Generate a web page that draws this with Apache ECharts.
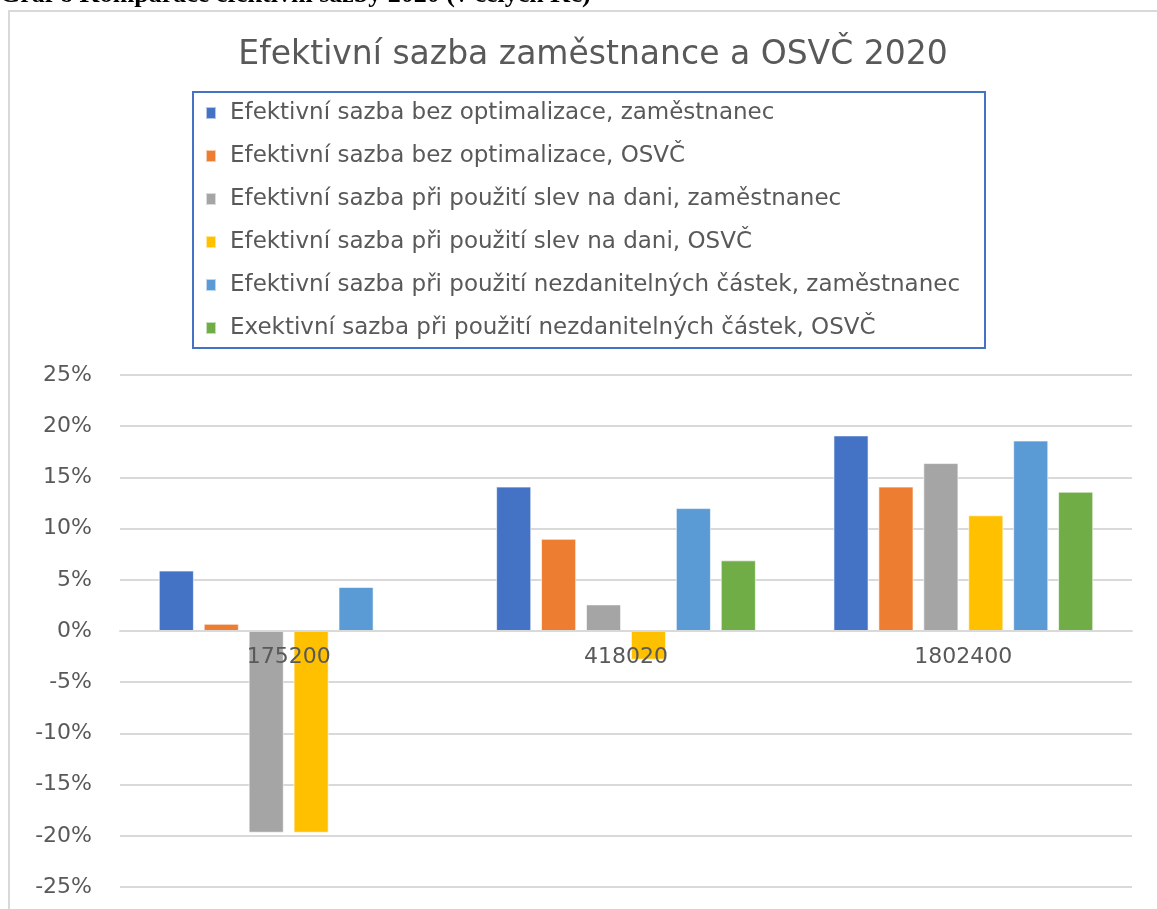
<!DOCTYPE html>
<html>
<head>
<meta charset="utf-8">
<title>Efektivní sazba zaměstnance a OSVČ 2020</title>
<script src="https://cdn.jsdelivr.net/npm/echarts@6/dist/echarts.min.js"></script>
<style>
  html, body { margin: 0; padding: 0; background: #fff; }
  #chart { width: 1157px; height: 909px; }
</style>
</head>
<body>
<div id="chart"></div>
<script>
// příjmy (osa X)
var categories = ['175200', '418020', '1802400'];
// efektivní sazby v %
var bezOptZam = [5.9, 14.1, 19.1];
var bezOptOsvc = [0.7, 9.0, 14.1];
var slevyZam = [-19.7, 2.6, 16.4];
var slevyOsvc = [-19.7, -2.8, 11.3];
var nezdZam = [4.3, 12.0, 18.6];
var nezdOsvc = [null, 6.9, 13.6];
// osa Y
var yMin = -25, yMax = 25, yStep = 5;

var seriesNames = [
  'Efektivní sazba bez optimalizace, zaměstnanec',
  'Efektivní sazba bez optimalizace, OSVČ',
  'Efektivní sazba při použití slev na dani, zaměstnanec',
  'Efektivní sazba při použití slev na dani, OSVČ',
  'Efektivní sazba při použití nezdanitelných částek, zaměstnanec',
  'Exektivní sazba při použití nezdanitelných částek, OSVČ'
];
var colors = ['#4472C4', '#ED7D31', '#A5A5A5', '#FFC000', '#5B9BD5', '#70AD47'];
var seriesData = [bezOptZam, bezOptOsvc, slevyZam, slevyOsvc, nezdZam, nezdOsvc];

var font = 'DejaVu Sans';
var gridTop = 375, gridBottom = 22;
var chart = echarts.init(document.getElementById('chart'));
// posun osy X na nulu (onZero se neprojevil)
var gridHeight = chart.getHeight() - gridTop - gridBottom;
var zeroOffset = -gridHeight * (0 - yMin) / (yMax - yMin);

var series = [];
for (var i = 0; i < seriesData.length; i++) {
  series.push({
    name: seriesNames[i],
    type: 'bar',
    data: seriesData[i],
    barGap: '28%',
    barCategoryGap: '23%',
    itemStyle: { color: colors[i], borderColor: 'rgba(255,255,255,0.6)', borderWidth: 1 }
  });
}

chart.setOption({
  animation: false,
  color: colors,
  title: {
    text: 'Efektivní sazba zaměstnance a OSVČ 2020',
    left: 588,
    textAlign: 'center',
    top: 34,
    textStyle: { fontFamily: font, fontSize: 33, fontWeight: 'normal', color: '#595959' }
  },
  graphic: [
    {
      type: 'rect',
      shape: { x: 9, y: 11, width: 1300, height: 1000 },
      style: { fill: 'none', stroke: '#d9d9d9', lineWidth: 2 },
      silent: true
    },
    {
      type: 'text',
      left: 0,
      top: -18,
      style: {
        text: 'Graf 8 Komparace efektivní sazby 2020 (v celých Kč)',
        font: 'bold 26px "Liberation Serif"',
        fill: '#000'
      }
    },
    {
      type: 'rect',
      shape: { x: 193, y: 92, width: 792, height: 256 },
      style: { fill: 'none', stroke: '#4472C4', lineWidth: 2 },
      silent: true
    }
  ],
  legend: {
    orient: 'vertical',
    left: 205,
    top: 101,
    padding: 0,
    itemWidth: 10,
    itemHeight: 12,
    itemGap: 19,
    icon: 'rect',
    data: seriesNames,
    textStyle: { fontFamily: font, fontSize: 23, color: '#595959', lineHeight: 24, padding: [0, 0, 0, 9] }
  },
  grid: { left: 120, right: 25, top: gridTop, bottom: gridBottom, outerBoundsMode: 'none', containLabel: false },
  xAxis: {
    type: 'category',
    data: categories,
    z: 5,
    position: 'bottom',
    offset: zeroOffset,
    axisLine: { onZero: false, lineStyle: { color: '#d9d9d9', width: 2 } },
    axisTick: { show: false },
    axisLabel: { margin: 15, fontFamily: font, fontSize: 22, color: '#595959' }
  },
  yAxis: {
    type: 'value',
    min: yMin,
    max: yMax,
    interval: yStep,
    axisLine: { show: false },
    axisTick: { show: false },
    splitLine: { lineStyle: { color: '#d9d9d9', width: 2 } },
    axisLabel: { margin: 28, formatter: '{value}%', fontFamily: font, fontSize: 22, color: '#595959' }
  },
  series: series
});
</script>
</body>
</html>
